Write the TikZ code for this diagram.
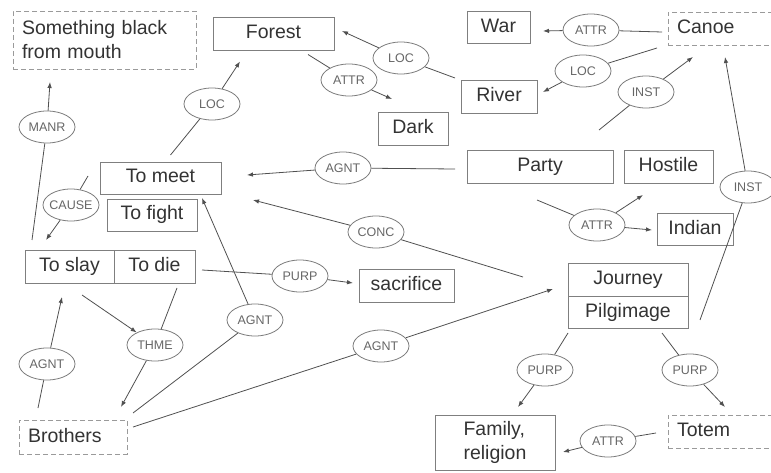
\documentclass[tikz,border=0pt]{standalone}
\usepackage{fontspec}
\setmainfont{Liberation Sans}
\usetikzlibrary{positioning,shapes.geometric,arrows.meta}

\definecolor{boxgray}{HTML}{7F7F7F}
\definecolor{ghostgray}{HTML}{9A9A9A}
\definecolor{linegray}{HTML}{505050}
\definecolor{ellgray}{HTML}{7A7A7A}
\definecolor{txtgray}{HTML}{333333}
\definecolor{relgray}{HTML}{666666}

\begin{document}
\begin{tikzpicture}[
				x=1pt, y=-1pt,
				color=linegray,
				line width=0.8pt,
				>={Latex[length=6pt,width=4.5pt]},
				node distance=0pt,
				frame/.style={draw=boxgray, text=txtgray, inner sep=0pt, outer sep=0pt, font=\fontsize{19.5}{24}\selectfont},
				box/.style={frame, minimum height=33pt, text height=14pt, text depth=4pt},
				ghost/.style={draw=ghostgray, dash pattern=on 5pt off 3pt, align=left, inner xsep=9pt},
				rel/.style={ellipse, draw=ellgray, text=relgray, minimum width=56pt, minimum height=32pt, inner xsep=-3pt, inner ysep=0pt, font=\fontsize{12.5}{14}\selectfont}
			]
			\useasboundingbox (0,0) rectangle (771,473);
			
			\node [frame, ghost, text width=165pt, minimum height=58pt] (smth) at (104.5,40) {Something black\\from mouth};
			\node [box, minimum width=121pt] (forest) at (273.5,34) {Forest};
			\node [box, minimum width=63pt, minimum height=32pt] (war) at (498.5,27.5) {War};
			\node [box, ghost, text width=94pt, anchor=west] (canoe) at (668,28.5) {Canoe};
			\node [box, minimum width=76pt] (river) at (499,96.5) {River};
			\node [box, minimum width=70pt] (dark) at (413,128.5) {Dark};
			\node [box, minimum width=146pt] (party) at (540,166.5) {Party};
			\node [box, minimum width=89pt, right=11pt of party] (hostile) {Hostile};
			\node [box, minimum width=76pt, minimum height=32pt] (indian) at (695,229) {Indian};
			\node [box, minimum width=121pt, minimum height=32pt] (tomeet) at (160.5,178) {To meet};
			\node [box, minimum width=90pt, minimum height=32pt] (tofight) at (152,215) {To fight};
			\node [box, minimum width=89pt] (toslay) at (69.5,266.5) {To slay};
			\node [box, minimum width=81pt, right=of toslay] (todie) {To die};
			\node [box, minimum width=95pt] (sacrifice) at (406.5,285.5) {sacrifice};
			\node [box, minimum width=120pt] (journey) at (628,279.5) {Journey};
			\node [box, minimum width=120pt, minimum height=32pt, below=of journey] (pilg) {Pilgimage};
			\node [box, ghost, text width=90pt, minimum height=34pt] (brothers) at (73,437) {Brothers};
			\node [frame, align=left, minimum width=120pt, minimum height=55pt] (family) at (495,442.5) {Family,\\religion};
			\node [box, ghost, text width=94pt, anchor=west] (totem) at (668,431.5) {Totem};
			
			\node [rel] (manr) at (47,127) {MANR};
			\node [rel] (loca) at (212,104) {LOC};
			\node [rel] (cause) at (71,205) {CAUSE};
			\node [rel] (locb) at (401,58) {LOC};
			\node [rel] (attra) at (349,80) {ATTR};
			\node [rel] (attrb) at (591,30) {ATTR};
			\node [rel] (locc) at (583,71) {LOC};
			\node [rel] (insta) at (646,92) {INST};
			\node [rel] (agnta) at (343,168) {AGNT};
			\node [rel] (conc) at (376,232) {CONC};
			\node [rel] (attrc) at (597,225) {ATTR};
			\node [rel] (instb) at (748,187) {INST};
			\node [rel] (agntb) at (47,364) {AGNT};
			\node [rel] (thme) at (155,345) {THME};
			\node [rel] (agntc) at (255,320) {AGNT};
			\node [rel] (purpa) at (300,276) {PURP};
			\node [rel] (agntd) at (381,346) {AGNT};
			\node [rel] (purpb) at (545,370) {PURP};
			\node [rel] (purpc) at (690,370) {PURP};
			\node [rel] (attrd) at (608,441) {ATTR};
			
			\draw ([shift={(7,-10)}]toslay.north west) -- (manr);
			\draw [->] (manr) -- ([shift={(37,13)}]smth.south west);
			\draw ([shift={(10,-7)}]tomeet.north) -- (loca);
			\draw [->] (loca) -- ([shift={(27,11)}]forest.south west);
			\draw ([shift={(-12,-2)}]tomeet.west) -- (cause);
			\draw [->] (cause) -- ([shift={(21,-10)}]toslay.north west);
			\draw ([shift={(-6,-2)}]river.north west) -- (locb);
			\draw [->] (locb) -- ([shift={(8,-3)}]forest.east);
			\draw ([shift={(-26,4)}]forest.south east) -- (attra);
			\draw [->] (attra) -- ([shift={(14,-13)}]dark.north west);
			\draw ([shift={(-6,3.5)}]canoe.west) -- (attrb);
			\draw [->] (attrb) -- ([shift={(13,3.5)}]war.east);
			\draw ([shift={(-11,3)}]canoe.south west) -- (locc);
			\draw [->] (locc) -- ([shift={(6,-4.5)}]river.east);
			\draw ([shift={(-14,-20)}]party.north east) -- (insta);
			\draw [->] (insta) -- ([shift={(25,12)}]canoe.south west);
			\draw ([shift={(-12,2.5)}]party.west) -- (agnta);
			\draw [->] (agnta) -- ([shift={(26,-3)}]tomeet.east);
			\draw ([shift={(-45,-2.5)}]journey.west) -- (conc);
			\draw [->] (conc) -- ([shift={(56,1)}]tofight.north east);
			\draw ([shift={(-3,17)}]party.south) -- (attrc);
			\draw [->] (attrc) -- ([shift={(19,12)}]hostile.south west);
			\draw [->] (attrc) -- ([shift={(-5,1)}]indian.west);
			\draw ([shift={(12,-8)}]pilg.south east) -- (instb);
			\draw [->] (instb) -- ([shift={(57,12)}]canoe.south west);
			\draw ([shift={(19,-12)}]brothers.north west) -- (agntb);
			\draw [->] (agntb) -- ([shift={(37,14)}]toslay.south west);
			\draw [->] ([shift={(57,12)}]toslay.south west) -- (thme);
			\draw ([shift={(22.5,5)}]todie.south) -- (thme);
			\draw [->] (thme) -- ([shift={(-6,-13)}]brothers.north east);
			\draw ([shift={(6,-7)}]brothers.north east) -- (agntc);
			\draw [->] (agntc) -- ([shift={(5,-1)}]tofight.north east);
			\draw ([shift={(7,3.5)}]todie.east) -- (purpa);
			\draw [->] (purpa) -- ([shift={(-6,-2.5)}]sacrifice.west);
			\draw ([shift={(6,-10)}]brothers.east) -- (agntd);
			\draw [->] (agntd) -- ([shift={(-15,9.5)}]journey.west);
			\draw ([shift={(0,5)}]pilg.south west) -- (purpb);
			\draw [->] (purpb) -- ([shift={(23,-8)}]family.north);
			\draw ([shift={(-26,5)}]pilg.south east) -- (purpc);
			\draw [->] (purpc) -- ([shift={(57,-8)}]totem.north west);
			\draw ([shift={(-12,1.5)}]totem.west) -- (attrd);
			\draw [->] (attrd) -- ([shift={(8,9.5)}]family.east);
		\end{tikzpicture}
\end{document}
